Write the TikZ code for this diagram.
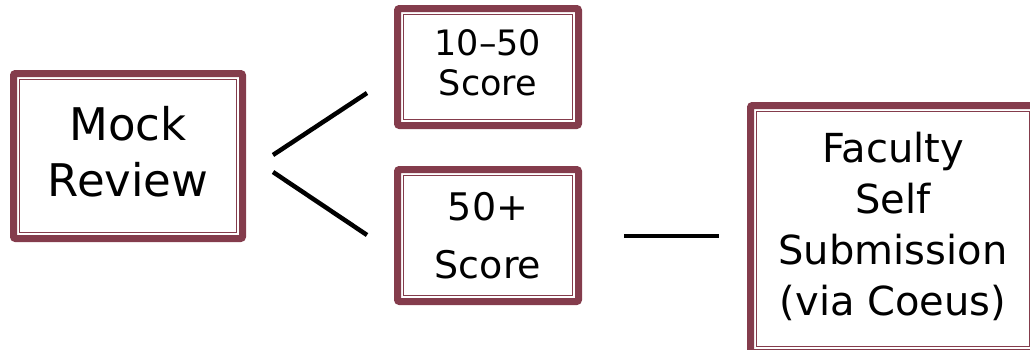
\documentclass[tikz,border=0pt]{standalone}
\usepackage{fontspec}
\usetikzlibrary{calc}
\setmainfont{DejaVu Sans}
\definecolor{frame}{RGB}{132,60,76}
\begin{document}
\begin{tikzpicture}[x=1pt,y=-1pt,
  box/.style={draw=frame, line width=7pt, rounded corners=2pt, fill=white, inner sep=0pt, outer sep=0pt, align=center, text=black},
  innerframe/.style={draw=frame, line width=1.6pt},
  conn/.style={line width=4.5pt, black}]
\useasboundingbox (0,0) rectangle (1030,349);
\clip (0,0) rectangle (1030,349);
\node[box, minimum width=229pt, minimum height=165pt, font=\fontsize{45}{56}\selectfont, text depth=10pt] (mock) at (128,156) {Mock\\Review};
\node[box, minimum width=181pt, minimum height=117pt, font=\fontsize{35}{40}\selectfont, text depth=9pt] (low) at (488,67) {10–50\\Score};
\node[box, minimum width=181pt, minimum height=132pt, font=\fontsize{38}{58}\selectfont] (high) at (488,235.5) {50+\\Score};
\node[box, minimum width=285pt, minimum height=247pt, font=\fontsize{40}{51}\selectfont, text depth=11pt] (fac) at (893,229) {Faculty\\Self\\Submission\\(via Coeus)};
\draw[innerframe] ($(mock.north west)+(6,6)$) rectangle ($(mock.south east)+(-6,-6)$);
\draw[innerframe] ($(low.north west)+(6,6)$) rectangle ($(low.south east)+(-6,-6)$);
\draw[innerframe] ($(high.north west)+(6,6)$) rectangle ($(high.south east)+(-6,-6)$);
\draw[innerframe] ($(fac.north west)+(6,6)$) rectangle ($(fac.south east)+(-6,-6)$);
\coordinate (u1) at (273,155);
\coordinate (u2) at (367,93);
\coordinate (d1) at (273,172);
\coordinate (d2) at (367,235);
\coordinate (h1) at (624,236);
\coordinate (h2) at (719,236);
\draw[conn] (u1) -- (u2);
\draw[conn] (d1) -- (d2);
\draw[conn] (h1) -- (h2);
\end{tikzpicture}
\end{document}
